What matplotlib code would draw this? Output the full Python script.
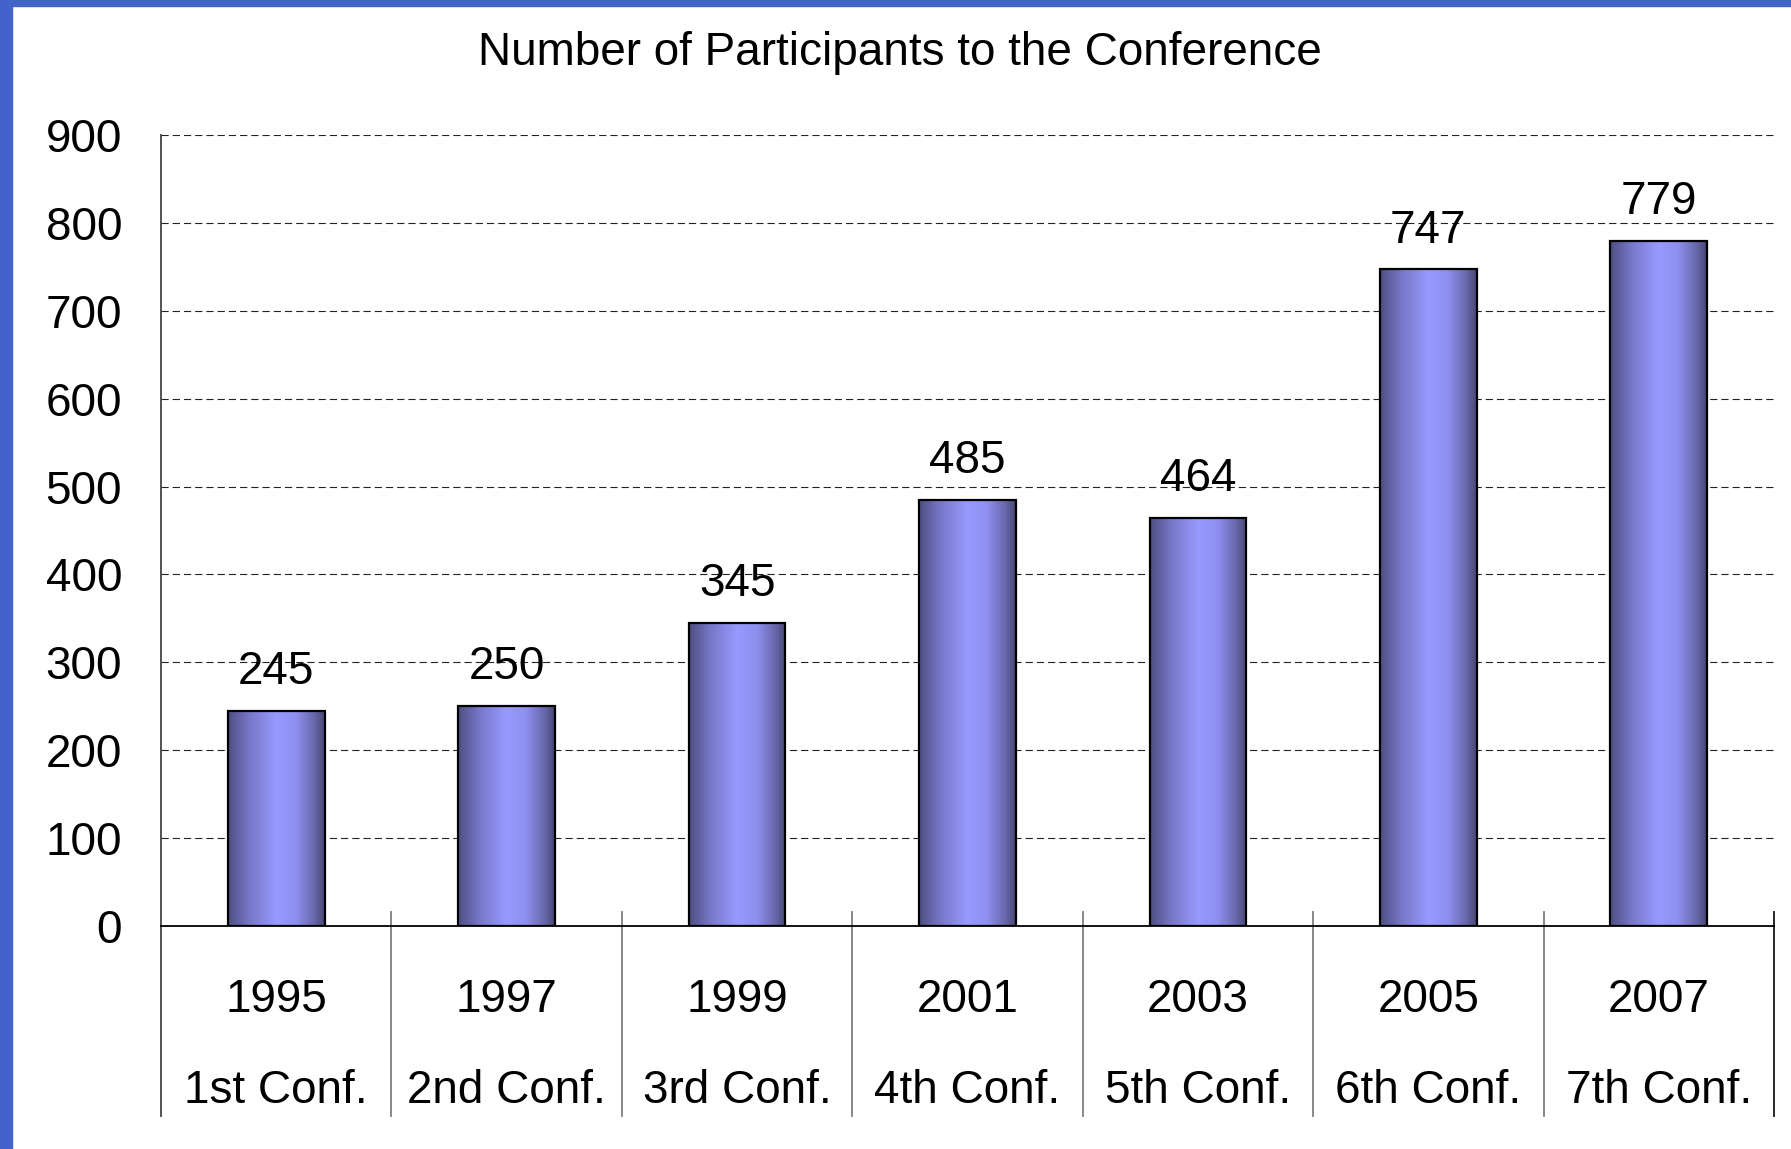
import matplotlib.pyplot as plt
import matplotlib.transforms as mtransforms
from matplotlib.colors import LinearSegmentedColormap
from matplotlib.patches import Rectangle
import numpy as np

plt.rcParams['font.family'] = ['Liberation Sans', 'DejaVu Sans']

years = ['1995', '1997', '1999', '2001', '2003', '2005', '2007']
confs = ['1st Conf.', '2nd Conf.', '3rd Conf.', '4th Conf.', '5th Conf.', '6th Conf.', '7th Conf.']
participants = [245, 250, 345, 485, 464, 747, 779]
yticks = [0, 100, 200, 300, 400, 500, 600, 700, 800, 900]

W, H = 1791, 1149
fig = plt.figure(figsize=(W / 100, H / 100), dpi=100)
fig.patch.set_facecolor('white')

# blue slide border on the left and top
fig.patches.append(Rectangle((0, 0), 12 / W, 1, transform=fig.transFigure, color='#4263c9', zorder=0))
fig.patches.append(Rectangle((0, 1 - 6 / H), 1, 6 / H, transform=fig.transFigure, color='#4263c9', zorder=0))

left, right, top, base = 161, 1774, 135, 926
ax = fig.add_axes([left / W, (H - base) / H, (right - left) / W, (base - top) / H])

fs = 33
x = np.arange(len(years))
bw = 0.42
grad_cmap = LinearSegmentedColormap.from_list(
    'bar', [(0, '#4e4e82'), (0.22, '#7777c8'), (0.5, '#9999ff'), (0.7, '#8f8ff0'), (0.88, '#6a6ab0'), (1, '#484872')])
grad = np.linspace(0, 1, 256).reshape(1, -1)

for xi, v in zip(x, participants):
    ax.imshow(grad, cmap=grad_cmap, aspect='auto', extent=(xi - bw / 2, xi + bw / 2, 0, v),
              zorder=3, interpolation='bilinear')
    ax.add_patch(Rectangle((xi - bw / 2, 0), bw, v, facecolor='none', edgecolor='black', lw=1.6, zorder=4))
    ax.annotate(str(v), (xi, v), xytext=(0, 28), textcoords='offset points',
                ha='center', va='center', fontsize=fs)

ax.set_xlim(-0.5, len(years) - 0.5)
ax.set_ylim(0, 900)
ax.set_yticks(yticks)
ax.set_xticks([])
ax.tick_params(axis='y', length=0, pad=28, labelsize=fs)

for t in yticks[1:]:
    ax.axhline(t, color='#222222', lw=0.8, ls=(0, (6.5, 3.6)), zorder=1)

for s in ['top', 'right', 'left']:
    ax.spines[s].set_visible(False)
ax.spines['bottom'].set_linewidth(1.3)
ax.spines['bottom'].set_zorder(5)

trans = mtransforms.blended_transform_factory(ax.transData, ax.transAxes)
ybot = -(1116 - base) / (base - top)
ysep = (base - 912) / (base - top)
ax.plot([-0.5, -0.5], [1.0, ybot], transform=trans, color='#444444', lw=1.3, clip_on=False)
for b in np.arange(0.5, len(years), 1.0):
    ax.plot([b, b], [ysep, ybot], transform=trans, color='#808080', lw=1.3, clip_on=False)
ax.plot([len(years) - 0.5] * 2, [ysep, ybot], transform=trans, color='#222222', lw=1.3, clip_on=False)

for xi, yr, c in zip(x, years, confs):
    ax.text(xi, -(1000 - base) / (base - top), yr, transform=trans, ha='center', va='center', fontsize=fs)
    ax.text(xi, -(1091 - base) / (base - top), c, transform=trans, ha='center', va='center', fontsize=fs)

fig.text(900 / W, 1 - 65 / H, 'Number of Participants to the Conference', ha='center', va='baseline', fontsize=fs)

fig.savefig('out.png', dpi=100)
